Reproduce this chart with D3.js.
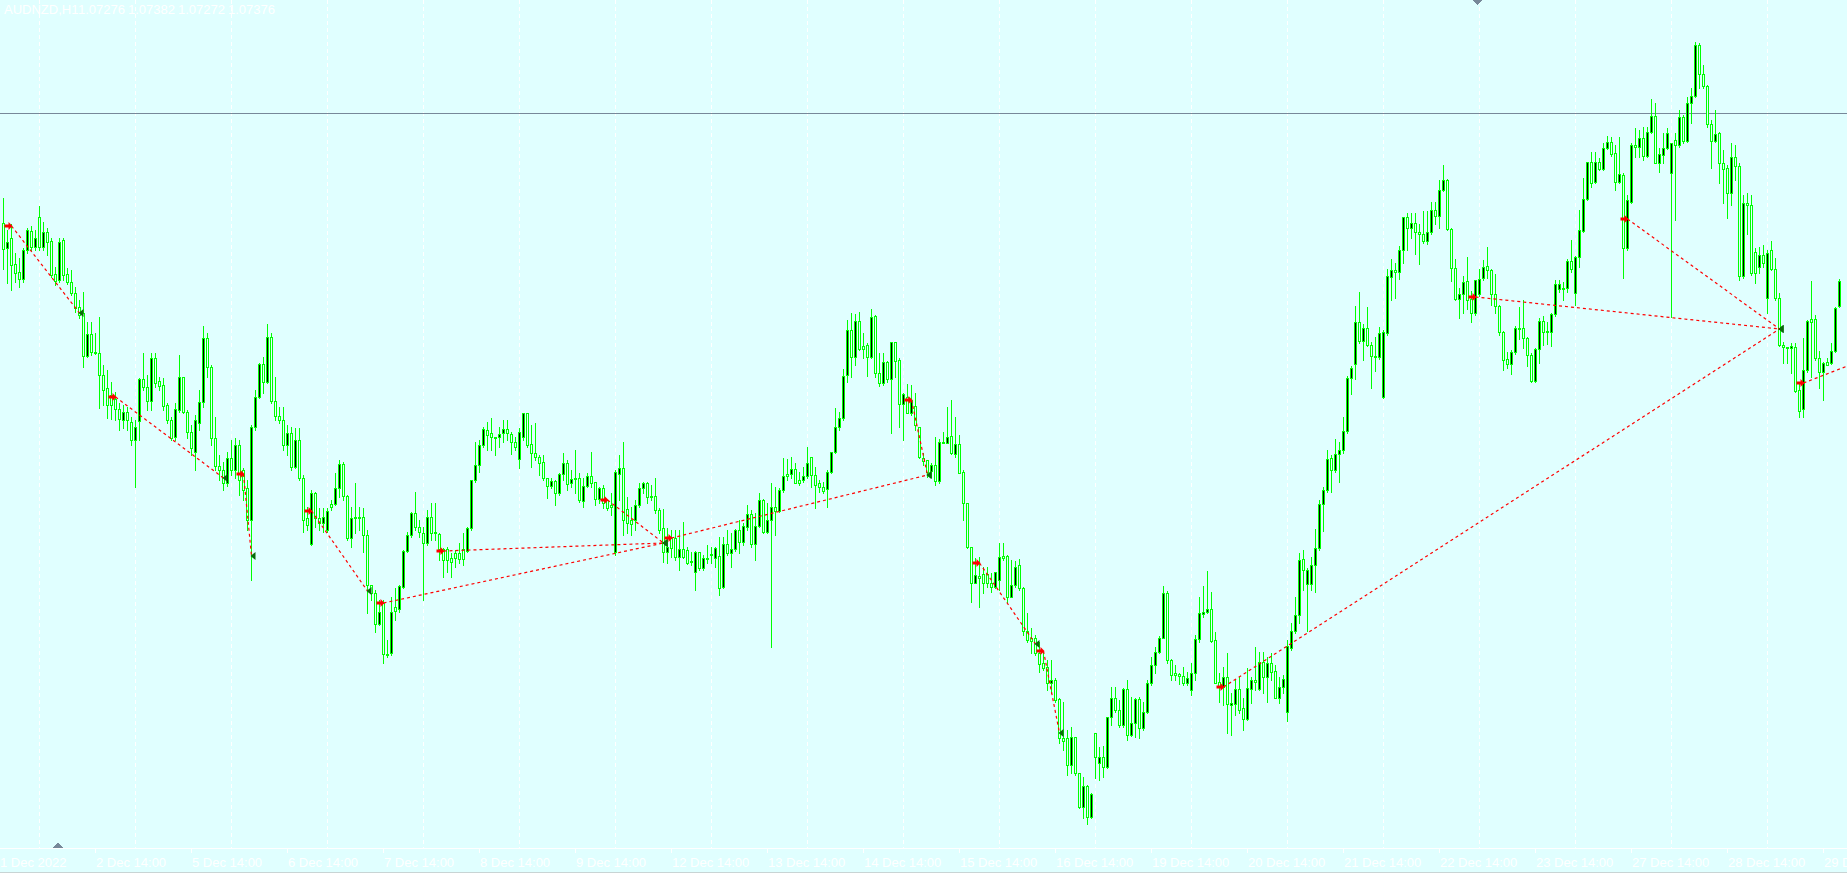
<!DOCTYPE html>
<html>
<head>
<meta charset="utf-8">
<script src="https://cdn.jsdelivr.net/npm/d3@7"></script>
<style>
  html, body { margin: 0; padding: 0; background: #e0ffff; overflow: hidden; }
  svg { display: block; }
</style>
</head>
<body>
<script>
// AUDNZD H1 candles, prices kept in points above 1.00000 (5 digit quotes)
const symbol = "AUDNZD,H1";

const opens = [
7608,7508,7548,7444,7412,7384,7500,7576,7512,7632,
7512,7572,7536,7404,7380,7540,7404,7372,7328,7272,
7248,7076,7164,7092,7088,7000,6948,6920,6904,6864,
6820,6852,6812,6740,6816,6984,6952,6896,7068,6976,
6960,6880,6820,6752,6860,6992,6852,6772,6692,6808,
6892,7148,7032,6748,6636,6620,6568,6668,6620,6720,
6620,6548,6420,6792,6912,7044,6972,7152,6896,6836,
6820,6720,6768,6632,6740,6588,6428,6324,6528,6428,
6408,6380,6484,6484,6548,6644,6516,6348,6432,6432,
6432,6360,6160,6128,6004,6088,5884,5888,6072,6064,
6152,6296,6360,6448,6392,6368,6328,6432,6372,6364,
6304,6304,6268,6288,6288,6304,6296,6388,6580,6640,
6720,6780,6768,6752,6752,6768,6784,6764,6732,6664,
6752,6848,6724,6688,6672,6652,6588,6556,6576,6528,
6604,6648,6568,6588,6588,6496,6556,6596,6572,6504,
6548,6500,6480,6292,6604,6628,6464,6420,6420,6480,
6548,6568,6516,6516,6460,6388,6292,6348,6348,6272,
6304,6300,6256,6212,6292,6228,6268,6284,6268,6276,
6152,6324,6288,6304,6380,6332,6392,6444,6324,6396,
6500,6372,6420,6472,6456,6540,6604,6604,6624,6580,
6580,6596,6672,6600,6568,6552,6544,6612,6692,6792,
6828,7000,7180,7072,7216,7116,7120,7072,7236,7008,
6968,7052,6984,7132,7060,6884,6912,6848,6876,6792,
6668,6660,6616,6640,6576,6732,6728,6756,6684,6724,
6612,6488,6312,6168,6196,6204,6204,6168,6152,6180,
6276,6276,6112,6160,6240,6148,5976,5948,5948,5888,
5848,5832,5768,5780,5704,5548,5548,5440,5552,5408,
5272,5356,5232,5568,5448,5472,5432,5632,5708,5660,
5600,5744,5560,5608,5704,5588,5652,5768,5840,5892,
5948,6128,5860,5808,5804,5796,5768,5740,5808,5944,
6044,6052,6064,5940,5772,5752,5792,5680,5684,5744,
5668,5624,5744,5780,5744,5852,5792,5848,5816,5708,
5752,5652,5908,5976,6040,6264,6164,6164,6240,6308,
6484,6540,6668,6620,6684,6700,6776,6988,7044,7212,
7136,7188,7120,7076,7072,6912,7168,7392,7420,7412,
7500,7632,7588,7608,7572,7564,7536,7572,7660,7636,
7740,7780,7584,7428,7304,7324,7376,7304,7248,7324,
7388,7436,7420,7324,7276,7172,7064,7044,7092,7188,
7188,7148,7080,6976,7104,7216,7176,7172,7244,7344,
7348,7348,7456,7328,7472,7576,7704,7852,7772,7852,
7824,7908,7932,7888,7772,7800,7508,7692,7920,7912,
7948,7876,7972,8036,7848,7880,7908,7808,7940,7920,
8032,7936,8088,8116,8320,8204,8156,8004,7936,7968,
7848,7828,7728,7872,7836,7396,7688,7680,7492,7432,
7480,7308,7500,7424,7308,7120,7112,7108,7112,6940,
6864,7020,7224,7224,7068,7012,7052,7048,7096,7276
];

const highs = [
7708,7580,7604,7488,7468,7508,7588,7596,7580,7676,
7612,7588,7548,7432,7548,7548,7428,7420,7352,7300,
7332,7212,7212,7168,7232,7040,7020,6972,6932,6888,
6880,6872,6832,6820,6988,7088,7000,7088,7088,6992,
6988,6888,6832,6888,7080,6992,6860,6800,6840,6940,
7196,7168,7040,6832,6680,6652,6692,6740,6748,6740,
6628,6580,6800,6940,7048,7072,7204,7168,6992,6872,
6872,6800,6792,6788,6788,6600,6472,6540,6532,6468,
6468,6468,6500,6608,6660,6652,6520,6472,6568,6472,
6468,6380,6160,6140,6100,6100,5940,6112,6148,6160,
6300,6372,6452,6532,6420,6392,6460,6488,6488,6368,
6308,6312,6288,6300,6328,6368,6392,6580,6732,6740,
6792,6812,6828,6752,6792,6820,6820,6772,6752,6788,
6848,6848,6800,6808,6680,6680,6588,6588,6580,6608,
6688,6660,6620,6700,6608,6588,6608,6692,6572,6552,
6560,6500,6528,6620,6680,6732,6512,6472,6500,6568,
6572,6572,6560,6588,6468,6464,6388,6380,6380,6380,
6412,6312,6292,6296,6292,6280,6320,6312,6312,6352,
6352,6380,6368,6384,6420,6408,6480,6460,6448,6528,
6504,6488,6568,6552,6548,6668,6664,6672,6648,6612,
6632,6712,6672,6632,6580,6572,6620,6692,6868,6852,
7024,7220,7248,7244,7252,7168,7128,7264,7240,7088,
7088,7056,7132,7132,7068,6928,6964,6960,6928,6792,
6688,6660,6648,6752,6744,6772,6872,6900,6832,6760,
6620,6488,6312,6268,6272,6232,6232,6208,6212,6328,
6328,6280,6260,6256,6264,6152,6048,5988,5960,5932,
5896,5860,5860,5788,5708,5692,5580,5592,5552,5408,
5392,5360,5328,5568,5512,5516,5632,5752,5752,5700,
5748,5780,5712,5708,5712,5692,5780,5872,5912,5956,
6156,6136,5864,5840,5808,5832,5812,5848,5960,6112,
6156,6216,6132,5972,5808,5832,5888,5728,5780,5792,
5708,5828,5792,5912,5892,5892,5872,5888,5840,5792,
5800,5940,6008,6112,6288,6300,6228,6272,6384,6500,
6552,6700,6680,6744,6732,6832,6996,7036,7276,7332,
7204,7272,7132,7152,7192,7180,7424,7464,7448,7516,
7632,7648,7648,7648,7604,7656,7656,7692,7692,7780,
7840,7784,7588,7464,7348,7396,7472,7336,7380,7424,
7460,7512,7424,7404,7280,7176,7092,7100,7196,7272,
7300,7152,7088,7108,7228,7236,7212,7248,7380,7380,
7372,7464,7540,7476,7660,7788,7852,7892,7892,7868,
7928,7956,7952,7920,7952,7808,7720,7928,7988,7980,
7992,7992,8104,8088,7908,7968,7988,7928,7968,8060,
8040,8112,8148,8332,8328,8240,8160,8020,8060,7972,
7900,7840,7928,7920,7848,7720,7728,7720,7508,7512,
7520,7500,7536,7468,7328,7132,7112,7128,7128,6968,
7148,7220,7376,7240,7096,7052,7068,7128,7272,7382
];

const lows = [
7424,7368,7340,7372,7352,7372,7488,7500,7500,7500,
7500,7480,7392,7360,7372,7380,7364,7320,7252,7228,
7032,7072,7080,7084,6868,6880,6828,6824,6820,6780,
6788,6780,6720,6552,6740,6940,6860,6860,6952,6940,
6860,6808,6740,6740,6852,6848,6748,6680,6620,6780,
6872,6992,6720,6620,6580,6540,6556,6600,6588,6520,
6500,6380,6180,6780,6908,6928,6968,6888,6820,6808,
6700,6680,6620,6628,6580,6372,6380,6320,6392,6380,
6372,6372,6460,6480,6512,6500,6340,6312,6368,6380,
6292,6048,6100,5972,6000,5848,5872,5880,6020,6052,
6148,6292,6352,6380,6352,6100,6320,6340,6340,6260,
6192,6212,6192,6232,6248,6240,6292,6380,6572,6612,
6712,6700,6700,6680,6712,6732,6740,6684,6700,6628,
6740,6712,6632,6660,6600,6580,6508,6548,6480,6520,
6580,6540,6552,6528,6492,6472,6552,6552,6480,6488,
6468,6460,6440,6280,6500,6360,6368,6360,6380,6472,
6528,6488,6500,6448,6368,6252,6248,6272,6260,6220,
6268,6244,6240,6140,6220,6220,6248,6248,6232,6120,
6148,6280,6232,6296,6288,6320,6380,6312,6260,6392,
6368,6368,5912,6360,6452,6532,6580,6588,6568,6560,
6572,6588,6552,6468,6532,6528,6472,6608,6688,6780,
6820,6972,6992,7040,7100,7068,6996,7068,6992,6956,
6960,6972,6768,6992,6792,6740,6848,6840,6780,6668,
6640,6592,6592,6560,6568,6728,6728,6684,6672,6608,
6420,6308,6092,6168,6072,6128,6152,6132,6148,6140,
6260,6092,6112,6152,6140,5960,5932,5888,5880,5812,
5820,5740,5728,5692,5528,5500,5400,5408,5400,5268,
5228,5204,5228,5388,5380,5392,5428,5600,5652,5592,
5592,5540,5556,5552,5548,5580,5648,5760,5808,5888,
5948,5848,5780,5780,5764,5760,5760,5720,5780,5932,
6032,6048,5932,5768,5692,5680,5568,5560,5640,5648,
5580,5620,5688,5740,5740,5728,5692,5780,5708,5688,
5728,5616,5900,5968,6008,6140,5976,6140,6132,6300,
6376,6532,6532,6612,6572,6688,6768,6924,6984,7128,
7060,7116,6948,7016,7064,6908,7160,7300,7308,7384,
7448,7500,7548,7484,7444,7528,7524,7564,7604,7588,
7736,7580,7376,7300,7228,7248,7264,7212,7240,7316,
7380,7388,7280,7248,7160,7020,7028,7004,7084,7144,
7108,7036,6972,6972,7048,7120,7124,7116,7236,7332,
7300,7332,7412,7280,7432,7572,7700,7752,7768,7820,
7820,7904,7876,7740,7768,7388,7500,7688,7872,7872,
7860,7872,7968,7848,7812,7848,7904,7232,7620,7912,
7928,7932,8008,8112,8148,8148,7992,7828,7932,7768,
7688,7628,7680,7780,7380,7388,7564,7400,7368,7408,
7432,7248,7420,7300,7116,7048,7048,7008,6932,6832,
6832,7012,6992,7060,6948,6900,7040,7044,7092,7272
];

const closes = [
7504,7532,7440,7408,7384,7500,7580,7512,7548,7512,
7572,7532,7400,7376,7532,7400,7372,7328,7268,7240,
7076,7164,7092,7088,7000,6940,6880,6880,6864,6824,
6852,6820,6740,6792,6984,6952,6896,7068,6968,6956,
6876,6820,6748,6864,6992,6852,6772,6708,6820,6892,
7148,7032,6748,6636,6620,6568,6668,6620,6720,6580,
6540,6420,6792,6912,7044,6972,7152,6896,6836,6820,
6720,6768,6632,6740,6588,6420,6400,6528,6428,6408,
6432,6456,6472,6548,6644,6516,6348,6428,6428,6428,
6360,6160,6128,6004,6052,5884,5880,6052,6056,6156,
6296,6360,6448,6392,6372,6328,6432,6368,6368,6304,
6260,6260,6252,6268,6264,6264,6388,6580,6640,6720,
6784,6760,6752,6748,6764,6784,6768,6732,6712,6772,
6848,6720,6688,6672,6648,6588,6556,6576,6528,6604,
6648,6564,6584,6584,6500,6556,6596,6568,6504,6548,
6488,6468,6472,6612,6628,6420,6408,6404,6480,6548,
6568,6512,6512,6460,6380,6292,6312,6308,6272,6304,
6272,6248,6252,6292,6228,6268,6264,6280,6308,6148,
6324,6288,6304,6380,6332,6396,6444,6324,6396,6500,
6372,6420,6472,6456,6540,6596,6596,6624,6568,6568,
6596,6648,6600,6560,6552,6536,6612,6692,6792,6828,
6996,7180,7072,7216,7104,7104,7072,7232,7008,6968,
7052,6984,7132,7056,6884,6924,6848,6900,6800,6672,
6656,6612,6640,6576,6732,6728,6752,6688,6724,6608,
6488,6312,6168,6200,6188,6168,6168,6152,6212,6272,
6268,6112,6160,6232,6148,5976,5940,5936,5888,5844,
5828,5768,5780,5700,5548,5536,5440,5552,5408,5272,
5356,5232,5324,5472,5472,5432,5632,5708,5660,5600,
5744,5560,5608,5704,5588,5652,5768,5840,5892,5948,
6128,5860,5800,5800,5796,5768,5788,5808,5944,6048,
6052,6064,5936,5768,5752,5792,5684,5688,5744,5660,
5624,5748,5780,5772,5852,5792,5848,5812,5708,5752,
5784,5916,5976,6040,6260,6220,6220,6240,6308,6484,
6540,6664,6620,6684,6700,6776,6988,7028,7212,7136,
7188,7120,7076,7072,7168,7172,7396,7420,7412,7500,
7632,7588,7608,7572,7564,7536,7572,7660,7636,7740,
7780,7584,7428,7304,7324,7372,7300,7248,7380,7384,
7432,7420,7324,7276,7172,7060,7044,7092,7188,7184,
7148,7080,6976,7104,7216,7172,7172,7244,7364,7364,
7344,7456,7424,7472,7580,7704,7852,7768,7852,7824,
7908,7932,7884,7772,7804,7508,7700,7920,7912,7948,
7876,7972,8036,7848,7884,7908,7968,7928,7920,8032,
7936,8088,8116,8320,8204,8156,8004,7936,7964,7848,
7824,7728,7872,7836,7396,7688,7680,7408,7408,7480,
7448,7488,7424,7308,7120,7112,7108,7116,6936,6856,
7020,7216,7212,7068,7012,7048,7040,7096,7268,7376
];

// axis labels and the bar each one sits on
const axisLabels = ["1 Dec 2022","2 Dec 14:00","5 Dec 14:00","6 Dec 14:00","7 Dec 14:00","8 Dec 14:00",
  "9 Dec 14:00","12 Dec 14:00","13 Dec 14:00","14 Dec 14:00","15 Dec 14:00","16 Dec 14:00",
  "19 Dec 14:00","20 Dec 14:00","21 Dec 14:00","22 Dec 14:00","23 Dec 14:00","27 Dec 14:00",
  "28 Dec 14:00","29 Dec 14:00"];
const labelBars = [0,23,47,71,95,119,143,167,191,215,239,263,287,311,335,359,383,407,431,455];
// first bar of each trading day (00:00)
const dayStartBars = [9,33,57,81,105,129,153,177,201,225,249,273,297,321,345,369,393,417,441];

// trade history: open bar/price -> close bar/price (points)
const tradeOpenBar   = [2,28,60,77,95,110,151,167,227,244,260,305,368,406,450];
const tradeOpenPts   = [7596,6912,6604,6456,6088,6296,6500,6348,6900,6248,5896,5752,7312,7624,6968];
const tradeCloseBar  = [19,55,62,91,165,165,165,231,231,258,264,444,444,444,470];
const tradeClosePts  = [7248,6588,6276,6136,6328,6328,6328,6600,6600,5924,5568,7184,7184,7184,7092];

const levelPts = 8048;   // horizontal line object

const toPrice = p => 1 + p / 100000;

const width = 1847;
const height = 873;
const axisY = 848;
const bg = "#e0ffff";
const candleColor = "#00ff00";

const bars = opens.map((o, i) => ({
  i: i,
  o: toPrice(o), h: toPrice(highs[i]), l: toPrice(lows[i]), c: toPrice(closes[i])
}));

//Scales
const xScale = d3.scaleLinear().domain([0, 1]).range([3.5, 7.5]);
const yScale = d3.scaleLinear().domain([1.085, 1.085 - height * 0.00004]).range([0, height]);

//SVG
const svg = d3.select("body").append("svg")
  .attr("width", width)
  .attr("height", height)
  .attr("shape-rendering", "crispEdges");

svg.append("rect").attr("width", width).attr("height", height).attr("fill", bg);

//Grid (day separators)
svg.append("g").selectAll("line")
  .data(dayStartBars)
  .enter().append("line")
  .attr("x1", d => xScale(d)).attr("x2", d => xScale(d))
  .attr("y1", 0).attr("y2", axisY)
  .attr("stroke", "#ffffff")
  .attr("stroke-dasharray", "4,3");

//level line
svg.append("line")
  .attr("x1", 0).attr("x2", width)
  .attr("y1", Math.round(yScale(toPrice(levelPts))) + 0.5)
  .attr("y2", Math.round(yScale(toPrice(levelPts))) + 0.5)
  .attr("stroke", "#778899");

//Candles
const candles = svg.append("g");
candles.selectAll("line")
  .data(bars)
  .enter().append("line")
  .attr("x1", d => xScale(d.i)).attr("x2", d => xScale(d.i))
  .attr("y1", d => Math.round(yScale(Math.max(d.h, d.o, d.c))))
  .attr("y2", d => Math.round(yScale(Math.min(d.l, d.o, d.c))) + 1)
  .attr("stroke", candleColor);

candles.selectAll("rect")
  .data(bars)
  .enter().append("rect")
  .each(function (d) {
    const top = Math.round(yScale(Math.max(d.o, d.c)));
    const bot = Math.round(yScale(Math.min(d.o, d.c)));
    const el = d3.select(this);
    if (bot - top < 2) {
      el.attr("x", xScale(d.i) - 1.5).attr("y", top)
        .attr("width", 3).attr("height", Math.max(1, bot - top + 1))
        .attr("fill", candleColor);
    } else {
      el.attr("x", xScale(d.i) - 1).attr("y", top + 0.5)
        .attr("width", 2).attr("height", bot - top)
        .attr("fill", d.c > d.o ? "#000000" : bg)
        .attr("stroke", candleColor);
    }
  });

//Trades
const trades = tradeOpenBar.map((b, k) => ({
  ob: b, op: toPrice(tradeOpenPts[k]), cb: tradeCloseBar[k], cp: toPrice(tradeClosePts[k])
}));

const tg = svg.append("g").attr("shape-rendering", "auto");
tg.selectAll("line")
  .data(trades)
  .enter().append("line")
  .attr("x1", d => xScale(d.ob)).attr("y1", d => yScale(d.op))
  .attr("x2", d => xScale(d.cb)).attr("y2", d => yScale(d.cp))
  .attr("stroke", "#ff0000")
  .attr("stroke-width", 1.2)
  .attr("stroke-dasharray", "3,3");

// close markers (dark green, pointing left)
tg.selectAll("path.close")
  .data(trades)
  .enter().append("path")
  .attr("class", "close")
  .attr("d", "M0,0 L5,-4 L5,4 Z")
  .attr("transform", d => "translate(" + (xScale(d.cb) - 1) + "," + yScale(d.cp) + ")")
  .attr("fill", "#0b6b0b");

// open markers (red arrows)
tg.selectAll("path.open")
  .data(trades)
  .enter().append("path")
  .attr("class", "open")
  .attr("d", "M1,0 L-3,-4 L-3,-1.5 L-7,-1.5 L-7,1.5 L-3,1.5 L-3,4 Z")
  .attr("transform", d => "translate(" + xScale(d.ob) + "," + yScale(d.op) + ")")
  .attr("fill", "#ff0000");

//Axis
svg.append("line")
  .attr("x1", 0).attr("x2", width)
  .attr("y1", axisY + 0.5).attr("y2", axisY + 0.5)
  .attr("stroke", "#ffffff");
svg.append("line")
  .attr("x1", 0).attr("x2", width)
  .attr("y1", height - 0.5).attr("y2", height - 0.5)
  .attr("stroke", "#c8d4d4");

svg.append("g").selectAll("line")
  .data(labelBars.slice(1))
  .enter().append("line")
  .attr("x1", d => xScale(d)).attr("x2", d => xScale(d))
  .attr("y1", axisY).attr("y2", axisY + 5)
  .attr("stroke", "#ffffff");

svg.append("g").selectAll("text")
  .data(axisLabels)
  .enter().append("text")
  .attr("x", (d, k) => k === 0 ? 0 : xScale(labelBars[k]) + 0.5)
  .attr("y", 867)
  .attr("fill", "#ffffff")
  .style("font-family", "'Liberation Sans', Arial, sans-serif")
  .style("font-size", "13px")
  .text(d => d);

// shift / scroll markers
svg.append("path").attr("d", "M1472,0 L1482,0 L1477,5 Z").attr("fill", "#778899");
svg.append("path").attr("d", "M53,848 L63,848 L58,842 Z").attr("fill", "#778899");

//Header
const last = bars[bars.length - 1];
const header = svg.append("text")
  .attr("y", 14)
  .attr("fill", "#ffffff")
  .style("font-family", "'Liberation Sans', Arial, sans-serif")
  .style("font-size", "13px");
header.append("tspan").attr("x", 4).text(symbol);
[last.o, last.h, last.l, last.c].forEach((v, k) => {
  header.append("tspan").attr("x", 78 + k * 50).text(v.toFixed(5));
});
</script>
</body>
</html>
